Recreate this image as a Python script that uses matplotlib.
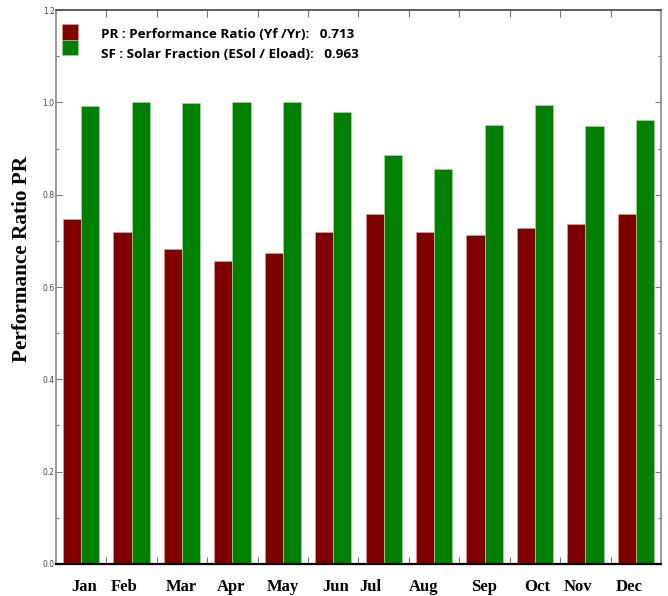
import matplotlib.pyplot as plt
from matplotlib.patches import Rectangle
import numpy as np

months = ['Jan', 'Feb', 'Mar', 'Apr', 'May', 'Jun', 'Jul', 'Aug', 'Sep', 'Oct', 'Nov', 'Dec']
pr = [0.747, 0.720, 0.682, 0.656, 0.674, 0.719, 0.758, 0.719, 0.713, 0.728, 0.736, 0.758]
sf = [0.992, 1.000, 0.999, 1.000, 1.000, 0.979, 0.886, 0.856, 0.951, 0.994, 0.949, 0.962]
pr_label = 'PR : Performance Ratio (Yf /Yr):   0.713'
sf_label = 'SF : Solar Fraction (ESol / Eload):   0.963'

# the month labels in the original are not centred exactly under the groups
label_shift = [0.06, -0.14, -0.02, -0.02, 0.0, 0.04, -0.26, -0.2, -0.02, 0.04, -0.14, -0.14]

red = '#800000'
green = '#008000'

fig = plt.figure(figsize=(6.68, 5.96), dpi=100)
ax = fig.add_axes([0.0838, 0.0537, 0.9057, 0.9295])

x = np.arange(len(months))
w = 0.36
ax.bar(x - w / 2, pr, w, color=red, edgecolor='#d9a0a0', linewidth=0.5)
ax.bar(x + w / 2, sf, w, color=green, edgecolor='#a0d9a0', linewidth=0.5)

ax.set_xlim(-0.5, 11.5)
ax.set_ylim(0, 1.2)

# x ticks sit between the month groups
ax.set_xticks(np.arange(0.5, 11, 1))
ax.set_xticklabels([])
ax.tick_params(axis='x', direction='in', length=5, width=0.8, color='#777777', top=True)
for i, m in enumerate(months):
    ax.text(x[i] + label_shift[i], -0.05, m, ha='center', va='center',
            fontsize=12, fontweight='bold', family='Liberation Serif', transform=ax.transData)

ax.set_yticks(np.arange(0, 1.21, 0.2))
ax.set_yticks(np.arange(0.1, 1.2, 0.2), minor=True)
ax.set_yticklabels(['%.1f' % v for v in np.arange(0, 1.21, 0.2)], fontsize=5.5, color='#444444',
                   family='Liberation Sans Narrow')
ax.tick_params(axis='y', which='major', direction='in', length=4, width=0.8, color='#777777',
               right=True, pad=1)
ax.tick_params(axis='y', which='minor', direction='in', length=2, width=0.8, color='#777777',
               right=True)

ax.set_ylabel('Performance Ratio PR', fontsize=15.3, fontweight='bold', family='Liberation Serif')
ax.yaxis.set_label_coords(-0.040, 0.551)

for s in ['left', 'right', 'top']:
    ax.spines[s].set_color('#888888')
    ax.spines[s].set_linewidth(1.2)
ax.spines['top'].set_color('#444444')
ax.spines['bottom'].set_color('black')
ax.spines['bottom'].set_linewidth(1.6)

# legend drawn by hand: two stacked swatches and two lines of text
ax.add_patch(Rectangle((0.0099, 0.9458), 0.0264, 0.0289, transform=ax.transAxes,
                       facecolor=red, edgecolor='#d9a0a0', linewidth=0.4, clip_on=False))
ax.add_patch(Rectangle((0.0099, 0.9188), 0.0264, 0.027, transform=ax.transAxes,
                       facecolor=green, edgecolor='#a0d9a0', linewidth=0.4, clip_on=False))
ax.text(0.074, 0.955, pr_label, transform=ax.transAxes, fontsize=9.7, fontweight='bold',
        family='Open Sans', va='center', ha='left')
ax.text(0.074, 0.9205, sf_label, transform=ax.transAxes, fontsize=9.7, fontweight='bold',
        family='Open Sans', va='center', ha='left')

fig.savefig('out.png', dpi=100)
